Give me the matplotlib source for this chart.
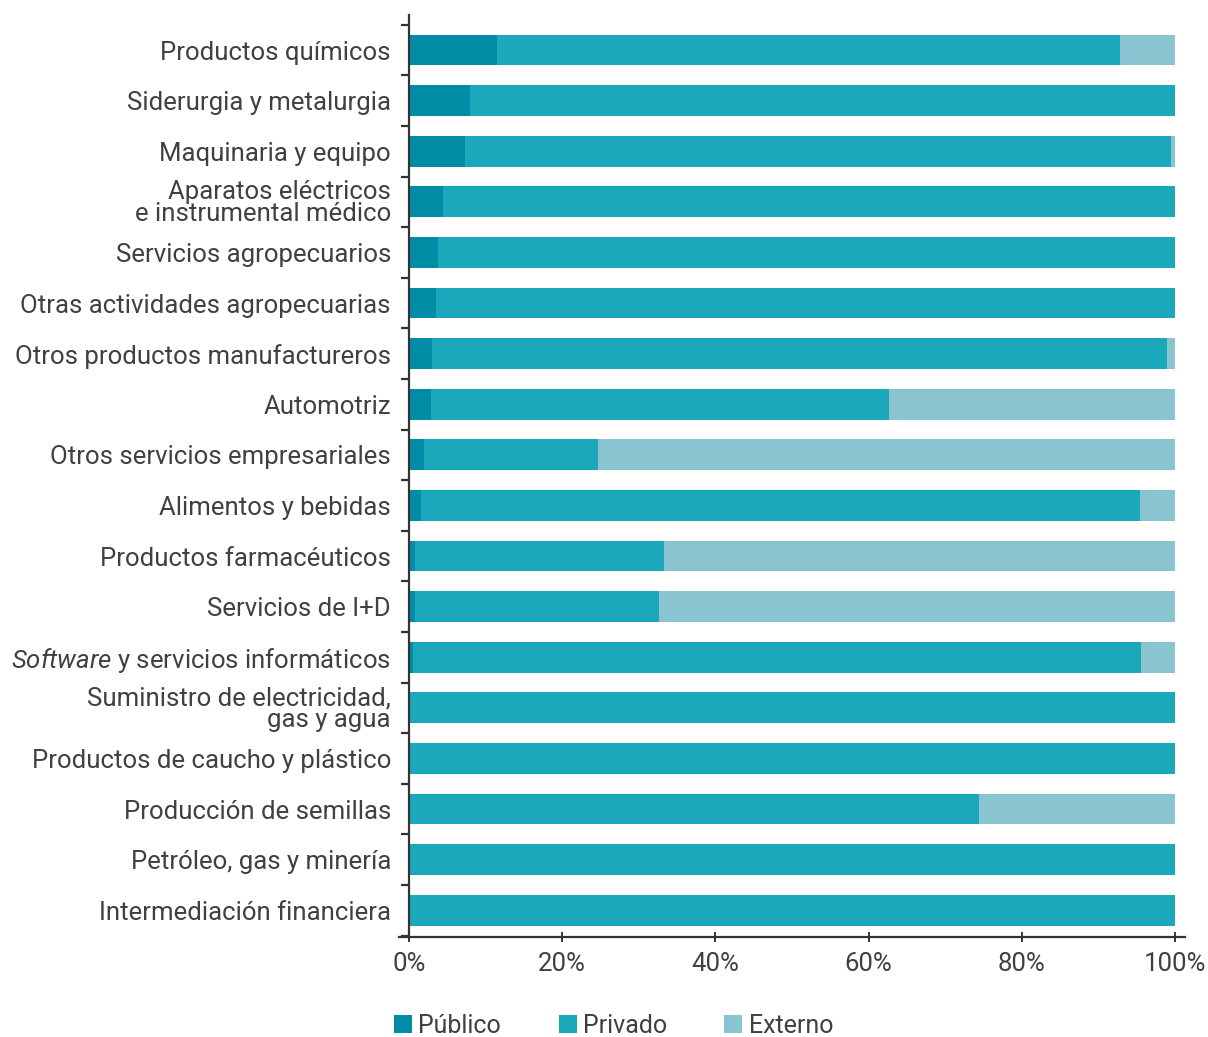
import matplotlib.pyplot as plt
import numpy as np

plt.rcParams['font.family'] = ['Roboto', 'DejaVu Sans']
plt.rcParams['font.weight'] = 'normal'
plt.rcParams['mathtext.fontset'] = 'custom'
plt.rcParams['mathtext.it'] = 'Roboto:italic'

# sectores, de arriba hacia abajo
sectores = [
    'Productos químicos',
    'Siderurgia y metalurgia',
    'Maquinaria y equipo',
    'Aparatos eléctricos\ne instrumental médico',
    'Servicios agropecuarios',
    'Otras actividades agropecuarias',
    'Otros productos manufactureros',
    'Automotriz',
    'Otros servicios empresariales',
    'Alimentos y bebidas',
    'Productos farmacéuticos',
    'Servicios de I+D',
    '$\\mathit{Software}$ y servicios informáticos',
    'Suministro de electricidad,\ngas y agua',
    'Productos de caucho y plástico',
    'Producción de semillas',
    'Petróleo, gas y minería',
    'Intermediación financiera',
]

publico = [11.5, 8.0, 7.3, 4.4, 3.8, 3.5, 3.0, 2.9, 2.0, 1.6, 0.8, 0.8, 0.5, 0.2, 0.0, 0.0, 0.0, 0.0]
privado = [81.3, 92.0, 92.2, 95.6, 96.2, 96.5, 96.0, 59.8, 22.7, 93.8, 32.5, 31.8, 95.0, 99.8, 100.0, 74.4, 100.0, 100.0]
externo = [7.2, 0.0, 0.5, 0.0, 0.0, 0.0, 1.0, 37.3, 75.3, 4.6, 66.7, 67.4, 4.5, 0.0, 0.0, 25.6, 0.0, 0.0]

xticks = [0, 20, 40, 60, 80, 100]
xlabels = ['0%', '20%', '40%', '60%', '80%', '100%']

col_pub = '#008ca5'
col_pri = '#1ca8bb'
col_ext = '#8ac4d0'
txt = '#404040'

fig = plt.figure(figsize=(12.08, 10.37), dpi=100)
ax = fig.add_axes([0.3303, 0.0964, 0.6507, 0.889])

y = np.arange(len(sectores))
pub = np.array(publico)
pri = np.array(privado)
ext = np.array(externo)
h = 0.61
ax.barh(y, pub, height=h, color=col_pub, label='Público')
ax.barh(y, pri, left=pub, height=h, color=col_pri, label='Privado')
ax.barh(y, ext, left=pub + pri, height=h, color=col_ext, label='Externo')

ax.set_xlim(-1.3, 101.3)
ax.set_ylim(17.53, -0.69)

ax.spines['top'].set_visible(False)
ax.spines['right'].set_visible(False)
ax.spines['left'].set_position(('data', 0))
for s in ['left', 'bottom']:
    ax.spines[s].set_color('#333333')
    ax.spines[s].set_linewidth(1.6)

ax.set_yticks(y)
ax.set_yticklabels(sectores, fontsize=18.5, color=txt, linespacing=0.88)
ax.set_yticks(np.arange(-0.5, len(sectores), 1), minor=True)
ax.tick_params(axis='y', which='major', length=0, pad=13)
ax.tick_params(axis='y', which='minor', length=6, width=1.6, color='#333333')
for lab in ax.get_yticklabels():
    lab.set_horizontalalignment('right')

ax.set_xticks(xticks)
ax.set_xticklabels(xlabels, fontsize=18.5, color=txt)
ax.tick_params(axis='x', length=7, width=1.4, direction='inout', color='#333333', pad=7)

fig.legend(loc='center', bbox_to_anchor=(0.508, 0.0106), ncol=3, frameon=False,
           fontsize=18, handlelength=0.72, handleheight=0.72, handletextpad=0.25,
           columnspacing=2.3, labelcolor=txt)

plt.savefig('out.png', dpi=100)
